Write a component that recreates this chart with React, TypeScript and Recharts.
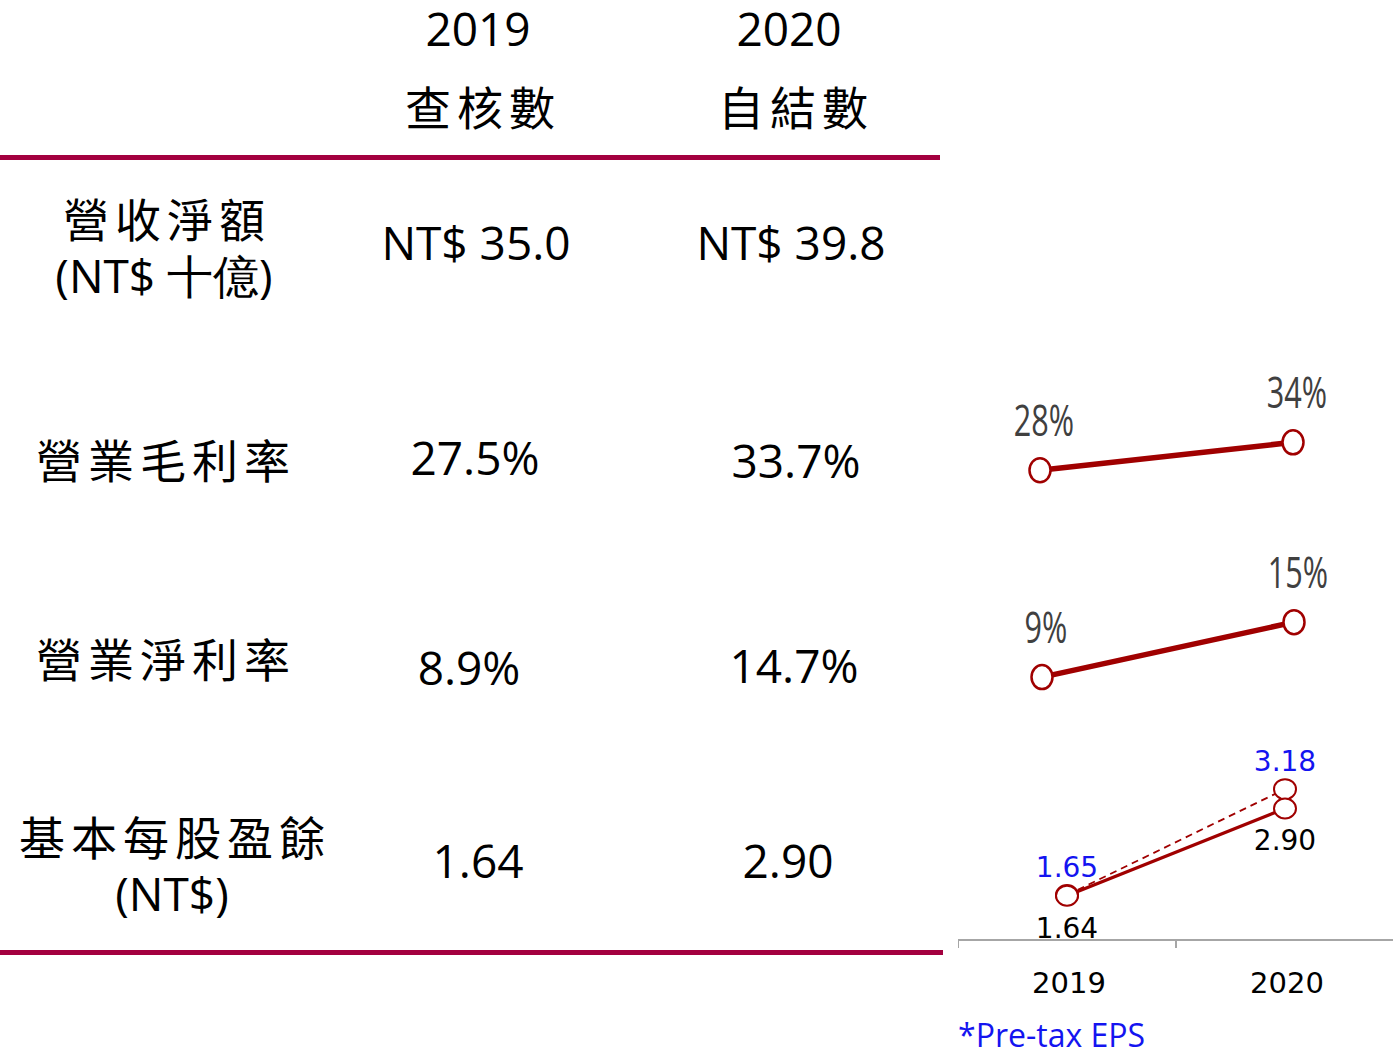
import { LineChart, Line, XAxis, YAxis, LabelList } from "recharts";

// table + mini charts data
const years = ["2019", "2020"];
const yearNotes = ["查核數", "自結數"];
const revenue = [35.0, 39.8];
const grossMargin = [27.5, 33.7];
const opMargin = [8.9, 14.7];
const eps = [1.64, 2.9];
const pretaxEps = [1.65, 3.18];

const rowLabels = [
  ["營收淨額", "(NT$ 十億)"],
  ["營業毛利率"],
  ["營業淨利率"],
  ["基本每股盈餘", "(NT$)"],
];

const RED = "#A00000";
const RULE = "#A3003F";
const BLUE = "#1414F0";
const NUM_FONT = "'Open Sans', 'Noto Sans', sans-serif";
const CJK_FONT = "'Noto Sans CJK TC', 'Noto Sans CJK SC', sans-serif";
const VERDANA_FONT = "'DejaVu Sans', Verdana, sans-serif";

const grossData = years.map((y, i) => ({ year: y, v: grossMargin[i] }));
const opData = years.map((y, i) => ({ year: y, v: opMargin[i] }));
const epsData = years.map((y, i) => ({ year: y, eps: eps[i], pretax: pretaxEps[i] }));

const Cell = ({ x, y, text, cjk, size = 46 }: any) => (
  <div
    style={{
      position: "absolute",
      left: x,
      top: y,
      transform: "translate(-50%, -50%)",
      whiteSpace: "nowrap",
      fontFamily: cjk ? CJK_FONT : NUM_FONT,
      fontSize: size,
      letterSpacing: cjk ? 6 : 0,
      paddingLeft: cjk ? 6 : 0,
      lineHeight: 1,
      color: "#000",
    }}
  >
    {text}
  </div>
);

const makeDot = (rx: number, ry: number, sw: number) => (props: any) => {
  const { cx, cy, index } = props;
  if (cx == null || cy == null) return null;
  return (
    <ellipse
      key={index}
      cx={cx}
      cy={cy}
      rx={rx}
      ry={ry}
      fill="#fff"
      stroke={RED}
      strokeWidth={sw}
    />
  );
};

const pct = (v: any) => `${Math.round(Number(v))}%`;

// tall condensed percent label, like the original's narrow font
const PctLabel = (props: any) => {
  const vb = props.viewBox || {};
  const x = props.x ?? vb.x;
  const y = props.y ?? vb.y;
  if (x == null || y == null) return null;
  return (
    <text
      x={0}
      y={0}
      transform={`translate(${x + 4},${y - 34}) scale(0.85,1.22)`}
      textAnchor="middle"
      fill="#404040"
      fontSize={36}
      fontFamily={NUM_FONT}
    >
      {pct(props.value)}
    </text>
  );
};

const EpsTick = (props: any) => {
  const { x, y, payload } = props;
  return (
    <g>
      <line x1={x - 109} y1={y - 8} x2={x - 109} y2={y} stroke="#A6A6A6" strokeWidth={2} />
      <text
        x={x + 2}
        y={y + 45}
        textAnchor="middle"
        fill="#000"
        fontSize={29}
        fontFamily={VERDANA_FONT}
      >
        {payload.value}
      </text>
    </g>
  );
};

const App = () => {
  const valueRows = [
    revenue.map((v) => `NT$ ${v.toFixed(1)}`),
    grossMargin.map((v) => `${v.toFixed(1)}%`),
    opMargin.map((v) => `${v.toFixed(1)}%`),
    eps.map((v) => v.toFixed(2)),
  ];
  const labelPos = [
    { x: 164, ys: [217, 275] },
    { x: 163, ys: [458] },
    { x: 163, ys: [657] },
    { x: 172, ys: [835, 893] },
  ];
  const valuePos = [
    [[476, 242], [791, 242]],
    [[475, 457], [796, 460]],
    [[469, 667], [794, 665]],
    [[478, 860], [788, 860]],
  ];

  return (
    <div
      style={{
        position: "absolute",
        left: 0,
        top: 0,
        width: 1393,
        height: 1053,
        background: "#fff",
        overflow: "hidden",
      }}
    >
      {/* header */}
      <Cell x={478} y={28} text={years[0]} />
      <Cell x={789} y={28} text={years[1]} />
      <Cell x={480} y={105} text={yearNotes[0]} cjk />
      <Cell x={793} y={105} text={yearNotes[1]} cjk />
      <div style={{ position: "absolute", left: 0, top: 155, width: 940, height: 5, background: RULE }} />
      <div style={{ position: "absolute", left: 0, top: 950, width: 943, height: 5, background: RULE }} />

      {rowLabels.map((lines, r) =>
        lines.map((t, k) => (
          <Cell
            key={`l${r}${k}`}
            x={labelPos[r].x}
            y={labelPos[r].ys[k]}
            text={t}
            cjk={!t.startsWith("(")}
          />
        ))
      )}
      {valueRows.map((vals, r) =>
        vals.map((t, c) => (
          <Cell key={`v${r}${c}`} x={valuePos[r][c][0]} y={valuePos[r][c][1]} text={t} />
        ))
      )}

      {/* gross margin mini chart */}
      <div style={{ position: "absolute", left: 958, top: 360 }}>
        <LineChart width={435} height={144} data={grossData} margin={{ top: 54, right: 0, bottom: 0, left: 0 }}>
          <XAxis dataKey="year" hide padding={{ left: 82, right: 100 }} />
          <YAxis hide domain={[20, 40]} />
          <Line
            dataKey="v"
            stroke={RED}
            strokeWidth={5.5}
            dot={makeDot(10.5, 12, 2.5)}
            isAnimationActive={false}
          >
            <LabelList dataKey="v" content={<PctLabel />} />
          </Line>
        </LineChart>
      </div>

      {/* operating margin mini chart */}
      <div style={{ position: "absolute", left: 958, top: 540 }}>
        <LineChart width={435} height={174} data={opData} margin={{ top: 32, right: 0, bottom: 0, left: 0 }}>
          <XAxis dataKey="year" hide padding={{ left: 84, right: 99 }} />
          <YAxis hide domain={[5, 20]} />
          <Line
            dataKey="v"
            stroke={RED}
            strokeWidth={5.5}
            dot={makeDot(10.5, 12, 2.5)}
            isAnimationActive={false}
          >
            <LabelList dataKey="v" content={<PctLabel />} />
          </Line>
        </LineChart>
      </div>

      {/* EPS mini chart */}
      <div style={{ position: "absolute", left: 958, top: 730 }}>
        <LineChart width={435} height={270} data={epsData} margin={{ top: 37, right: 0, bottom: 0, left: 0 }}>
          <XAxis
            dataKey="year"
            height={60}
            padding={{ left: 109, right: 108 }}
            axisLine={{ stroke: "#A6A6A6", strokeWidth: 2 }}
            tickLine={false}
            tickSize={8}
            tickMargin={0}
            tick={<EpsTick />}
            interval={0}
          />
          <YAxis hide domain={[1, 3.5]} />
          <Line
            dataKey="pretax"
            stroke={RED}
            strokeWidth={1.8}
            strokeDasharray="7 5"
            dot={makeDot(11, 10, 2)}
            isAnimationActive={false}
          >
            <LabelList
              dataKey="pretax"
              position="top"
              offset={18}
              formatter={(v: any) => Number(v).toFixed(2)}
              fill={BLUE}
              fontSize={28}
              fontFamily={VERDANA_FONT}
            />
          </Line>
          <Line
            dataKey="eps"
            stroke={RED}
            strokeWidth={3.2}
            dot={makeDot(11, 10, 2)}
            isAnimationActive={false}
          >
            <LabelList
              dataKey="eps"
              position="bottom"
              offset={22}
              formatter={(v: any) => Number(v).toFixed(2)}
              fill="#000"
              fontSize={28}
              fontFamily={VERDANA_FONT}
            />
          </Line>
        </LineChart>
      </div>

      <div
        style={{
          position: "absolute",
          left: 958,
          top: 1018,
          fontFamily: NUM_FONT,
          fontSize: 32,
          lineHeight: "33px",
          color: BLUE,
          whiteSpace: "nowrap",
        }}
      >
        *Pre-tax EPS
      </div>
    </div>
  );
};

export default App;
